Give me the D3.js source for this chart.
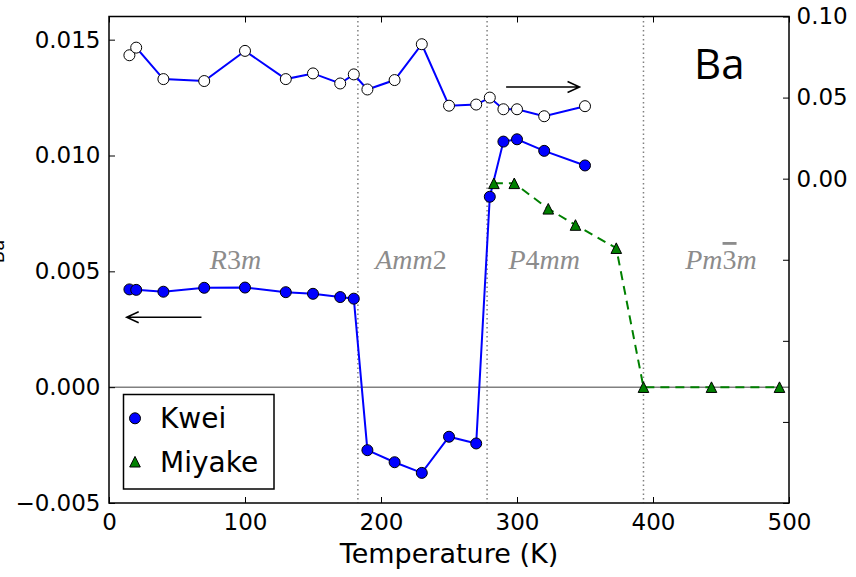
<!DOCTYPE html>
<html>
<head>
<meta charset="utf-8">
<script src="https://cdn.jsdelivr.net/npm/d3@7"></script>
<style>
  body { margin: 0; background: #fff; }
  svg { display: block; }
  .tick text { font-family: "DejaVu Sans", sans-serif; font-size: 23px; fill: #000; }
  .tick line { stroke: #000; stroke-width: 1; }
</style>
</head>
<body>
<svg id="chart" width="856" height="577"></svg>
<script>
// Kwei: filled circles, left axis
const kweiT = [15, 20, 40, 70, 100, 130, 150, 170, 180, 190, 210, 230, 250, 270, 280, 290, 300, 320, 350];
const kweiVal = [0.00422, 0.00420, 0.00412, 0.00429, 0.00430, 0.00410, 0.00403, 0.00389, 0.00382,
  -0.00272, -0.00324, -0.00370, -0.00214, -0.00243, 0.00822, 0.01060, 0.01070, 0.01020, 0.00957];

// open circles, right axis
const openT = [15, 20, 40, 70, 100, 130, 150, 170, 180, 190, 210, 230, 250, 270, 280, 290, 300, 320, 350];
const openVal = [0.0761, 0.0808, 0.0614, 0.0602, 0.0788, 0.0614, 0.0649, 0.0587, 0.0643, 0.0550,
  0.0608, 0.0829, 0.0450, 0.0457, 0.0500, 0.0428, 0.0428, 0.0385, 0.0447];

// Miyake: triangles, left axis
const miyakeT = [283, 298, 323, 343, 373, 393, 443, 493];
const miyakeVal = [0.0088, 0.0088, 0.0077, 0.0070, 0.0060, 0, 0, 0];

const transitionT = [183, 278, 393];
// [italic part, upright digit, italic part, bar over digit]
const phaseNames = [['R', '3', 'm', false], ['Amm', '2', '', false], ['P', '4', 'mm', false], ['Pm', '3', 'm', true]];
const phaseT = [93, 222, 320, 450];

const xTicks = [0, 100, 200, 300, 400, 500];
const yLeftTicks = [-0.005, 0, 0.005, 0.010, 0.015];
const yRightTicks = [-0.20, -0.15, -0.10, -0.05, 0, 0.05, 0.10];

const svg = d3.select('#chart');
const plotLeft = 109, plotRight = 789, plotTop = 16.5, plotBottom = 503;

const x = d3.scaleLinear().domain([0, 500]).range([plotLeft, plotRight]);
const yL = d3.scaleLinear().domain([-0.005, 0.016]).range([plotBottom, plotTop]);
const yR = d3.scaleLinear().domain([-0.20, 0.10]).range([plotBottom, plotTop]);

// phase boundaries and zero line
svg.append('g').selectAll('line').data(transitionT).join('line')
  .attr('x1', (d) => x(d)).attr('x2', (d) => x(d))
  .attr('y1', plotTop).attr('y2', plotBottom)
  .attr('stroke', '#808080').attr('stroke-width', 1.5)
  .attr('stroke-dasharray', '1.5,3');

svg.append('line')
  .attr('x1', plotLeft).attr('x2', plotRight)
  .attr('y1', yL(0)).attr('y2', yL(0))
  .attr('stroke', '#808080').attr('stroke-width', 1.5);

// phase labels
const phase = svg.append('g').selectAll('text').data(phaseNames).join('text')
  .attr('x', (d, i) => x(phaseT[i]))
  .attr('y', yL(0.0051))
  .attr('text-anchor', 'middle')
  .attr('font-family', '"Liberation Serif", serif')
  .attr('font-size', 28)
  .attr('fill', '#8c8c8c');
phase.each(function(d) {
  const t = d3.select(this);
  t.append('tspan').attr('font-style', 'italic').text(d[0]);
  const digit = t.append('tspan').text(d[1]);
  if (d[3]) digit.style('text-decoration', 'overline');
  if (d[2]) t.append('tspan').attr('font-style', 'italic').text(d[2]);
});

// arrows
const arrows = [
  { x0: 68, x1: 13, y: 0.00302, scale: yL },
  { x0: 292, x1: 346, y: 0.0565, scale: yR }
];
svg.append('g').selectAll('path').data(arrows).join('path')
  .attr('d', (a) => {
    const x0 = x(a.x0), x1 = x(a.x1), yy = a.scale(a.y);
    const dir = x1 > x0 ? -1 : 1;
    return 'M' + x0 + ',' + yy + 'L' + x1 + ',' + yy +
      'M' + (x1 + dir * 12) + ',' + (yy - 5.5) + 'L' + x1 + ',' + yy +
      'L' + (x1 + dir * 12) + ',' + (yy + 5.5);
  })
  .attr('fill', 'none').attr('stroke', '#000').attr('stroke-width', 1.5);

// Kwei line + markers
const kwei = kweiT.map((t, i) => [t, kweiVal[i]]);
svg.append('path').datum(kwei)
  .attr('d', d3.line().x((d) => x(d[0])).y((d) => yL(d[1])))
  .attr('fill', 'none').attr('stroke', '#0000ff').attr('stroke-width', 2);
svg.append('g').selectAll('circle').data(kwei).join('circle')
  .attr('cx', (d) => x(d[0])).attr('cy', (d) => yL(d[1])).attr('r', 5.5)
  .attr('fill', '#0000ff').attr('stroke', '#000').attr('stroke-width', 1);

// open circles (right axis)
const open = openT.map((t, i) => [t, openVal[i]]);
svg.append('path').datum(open)
  .attr('d', d3.line().x((d) => x(d[0])).y((d) => yR(d[1])))
  .attr('fill', 'none').attr('stroke', '#0000ff').attr('stroke-width', 2);
svg.append('g').selectAll('circle').data(open).join('circle')
  .attr('cx', (d) => x(d[0])).attr('cy', (d) => yR(d[1])).attr('r', 5.5)
  .attr('fill', '#fff').attr('stroke', '#000').attr('stroke-width', 1);

// Miyake
const tri = (s) => 'M0,' + (-s) + 'L' + (-s) + ',' + s + 'L' + s + ',' + s + 'Z';
const miyake = miyakeT.map((t, i) => [t, miyakeVal[i]]);
svg.append('path').datum(miyake)
  .attr('d', d3.line().x((d) => x(d[0])).y((d) => yL(d[1])))
  .attr('fill', 'none').attr('stroke', '#008000').attr('stroke-width', 2)
  .attr('stroke-dasharray', '9,6');
svg.append('g').selectAll('path').data(miyake).join('path')
  .attr('transform', (d) => 'translate(' + x(d[0]) + ',' + yL(d[1]) + ')')
  .attr('d', tri(5.3))
  .attr('fill', '#008000').attr('stroke', '#000').attr('stroke-width', 1);

// axes
svg.append('g').attr('transform', 'translate(0,' + plotBottom + ')')
  .call(d3.axisBottom(x).tickValues(xTicks).tickFormat(d3.format('d'))
    .tickSizeInner(-6).tickSizeOuter(0).tickPadding(10.5))
  .call((g) => g.select('.domain').remove());
svg.append('g').attr('transform', 'translate(0,' + plotTop + ')')
  .call(d3.axisTop(x).tickValues(xTicks).tickFormat('')
    .tickSizeInner(-6).tickSizeOuter(0))
  .call((g) => g.select('.domain').remove());
svg.append('g').attr('transform', 'translate(' + plotLeft + ',0)')
  .call(d3.axisLeft(yL).tickValues(yLeftTicks).tickFormat(d3.format('.3f'))
    .tickSizeInner(-6).tickSizeOuter(0).tickPadding(8.5))
  .call((g) => g.select('.domain').remove());
svg.append('g').attr('transform', 'translate(' + plotRight + ',0)')
  .call(d3.axisRight(yR).tickValues(yRightTicks)
    .tickFormat((d) => d >= -1e-9 ? d3.format('.2f')(d) : '')
    .tickSizeInner(-6).tickSizeOuter(0).tickPadding(7.5))
  .call((g) => g.select('.domain').remove());

svg.append('rect')
  .attr('x', plotLeft).attr('y', plotTop)
  .attr('width', plotRight - plotLeft).attr('height', plotBottom - plotTop)
  .attr('fill', 'none').attr('stroke', '#000').attr('stroke-width', 1.5);

// axis labels (the y label is clipped by the left edge, as in the original)
svg.append('text')
  .attr('x', (plotLeft + plotRight) / 2).attr('y', 563)
  .attr('text-anchor', 'middle')
  .attr('font-family', '"DejaVu Sans", sans-serif').attr('font-size', 27)
  .text('Temperature (K)');
svg.append('text')
  .attr('transform', 'translate(4,251.5) rotate(-90)')
  .attr('text-anchor', 'middle')
  .attr('font-family', '"DejaVu Sans", sans-serif').attr('font-size', 18)
  .text('Ba');

svg.append('text')
  .attr('x', 694).attr('y', 78.5)
  .attr('font-family', '"Open Sans", sans-serif').attr('font-size', 42)
  .text('Ba');

// legend
const legend = svg.append('g');
legend.append('rect')
  .attr('x', 123.5).attr('y', 394.5).attr('width', 150.5).attr('height', 94.5)
  .attr('fill', '#fff').attr('stroke', '#000').attr('stroke-width', 1.5);
const legendItems = ['Kwei', 'Miyake'];
legendItems.forEach((name, i) => {
  const cy = 418.3 + i * 43.4;
  if (i === 0) {
    legend.append('circle').attr('cx', 135).attr('cy', cy).attr('r', 5.5)
      .attr('fill', '#0000ff').attr('stroke', '#000').attr('stroke-width', 1);
  } else {
    legend.append('path').attr('transform', 'translate(135,' + cy + ')')
      .attr('d', tri(5.3))
      .attr('fill', '#008000').attr('stroke', '#000').attr('stroke-width', 1);
  }
  legend.append('text')
    .attr('x', 160).attr('y', cy + 10)
    .attr('font-family', '"DejaVu Sans", sans-serif').attr('font-size', 28)
    .text(name);
});
</script>
</body>
</html>
